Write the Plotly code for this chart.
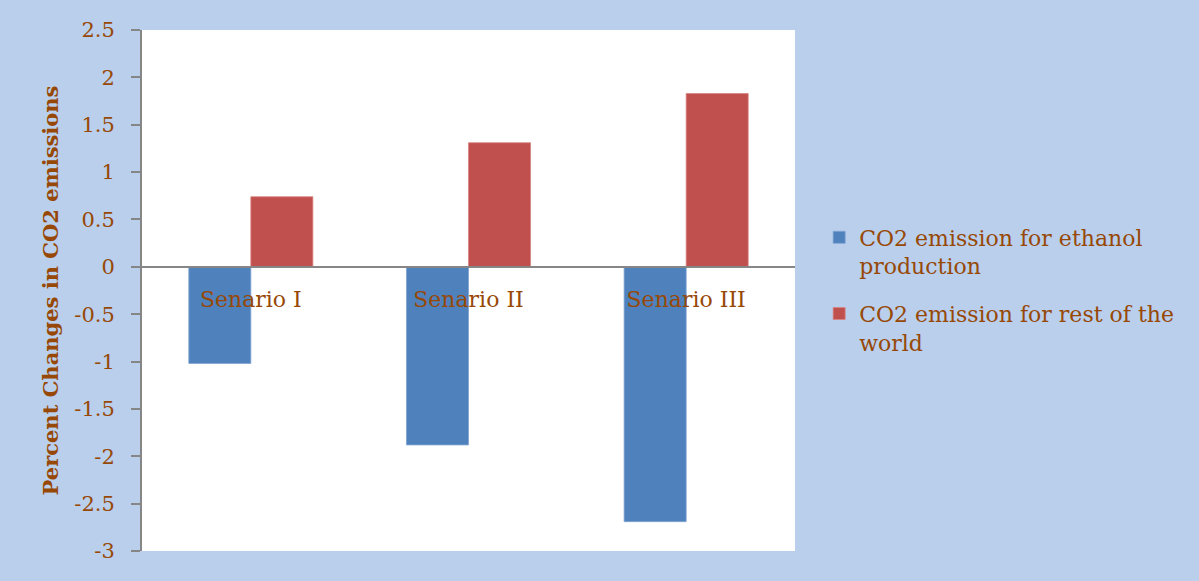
import plotly.graph_objects as go

# Scenario categories and percent changes in CO2 emissions
scenarios = ["Senario I", "Senario II", "Senario III"]
ethanol_co2 = [-1.02, -1.88, -2.69]
rest_of_world_co2 = [0.74, 1.31, 1.83]
series_names = ["CO2 emission for ethanol<br>production",
                "CO2 emission for rest of the<br>world"]
y_ticks = [2.5, 2, 1.5, 1, 0.5, 0, -0.5, -1, -1.5, -2, -2.5, -3]

Y_MIN, Y_MAX = -3, 2.5
TEXT = "#974806"
AXIS = "#868686"
BG = "#B9CFEC"
FONT = "DejaVu Serif"

fig = go.Figure()
fig.add_trace(go.Bar(x=scenarios, y=ethanol_co2, name=series_names[0],
                     legendgroup="ethanol",
                     marker=dict(color="#4F81BD", line=dict(color="#7FA3D0", width=0.8))))
fig.add_trace(go.Bar(x=scenarios, y=rest_of_world_co2, name=series_names[1],
                     legendgroup="rest",
                     marker=dict(color="#C0504D", line=dict(color="#D88481", width=0.8))))

# category axis sits on the zero line
zero_pos = (0 - Y_MIN) / (Y_MAX - Y_MIN)

fig.update_layout(
    width=1199, height=581,
    paper_bgcolor=BG, plot_bgcolor="white",
    margin=dict(l=142, r=404, t=30, b=30, autoexpand=False),
    barmode="group", bargap=0.43, bargroupgap=0,
    font=dict(family=FONT, color=TEXT, size=21),
    legend=dict(x=1.037, xanchor="left", y=0.642, yanchor="top",
                bgcolor="rgba(0,0,0,0)", font=dict(size=22, color=TEXT),
                valign="top", tracegroupgap=16, itemwidth=30,
                traceorder="grouped"),
    xaxis=dict(anchor="free", position=zero_pos, showline=True,
               linecolor=AXIS, linewidth=2, ticks="outside", ticklen=13,
               tickcolor="rgba(0,0,0,0)", showgrid=False,
               tickfont=dict(size=22, color=TEXT, family=FONT)),
    yaxis=dict(range=[Y_MIN, Y_MAX], tickvals=y_ticks,
               ticktext=[f"{v:g}" for v in y_ticks],
               showline=True, linecolor=AXIS, linewidth=2,
               ticks="outside", ticklen=9, tickcolor=AXIS, tickwidth=2,
               showgrid=False, zeroline=False, ticklabelstandoff=12,
               tickfont=dict(size=21, color=TEXT, family=FONT),
               title=dict(text="<b>Percent Changes in CO2 emissions</b>",
                          font=dict(size=21, color=TEXT, family=FONT),
                          standoff=10)),
)

fig.write_html("out.html")
